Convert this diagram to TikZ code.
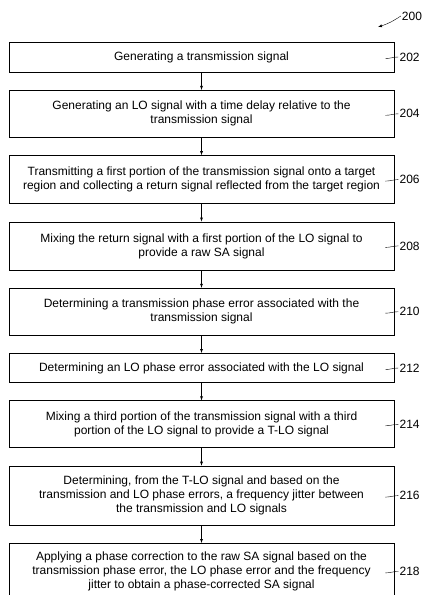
\documentclass[tikz,border=0pt]{standalone}
\usepackage{fontspec}
\setmainfont{Liberation Sans}
\usepackage{tikz}
\tikzset{stepbox/.style={draw,line width=0.8pt,minimum width=385pt,inner sep=0pt,align=center,font=\fontsize{12}{14}\selectfont} }
\tikzset{refnum/.style={inner sep=1pt,font=\fontsize{12}{14}\selectfont} }
\usetikzlibrary{positioning}

\begin{document}
\begin{tikzpicture}[x=1pt,y=1pt,node distance=17.5pt]
    \useasboundingbox (0,0) rectangle (423,-595);
    \node[stepbox,minimum height=30pt] (b202) at (201.5,-57) {Generating a transmission signal};
    \node[stepbox,minimum height=47pt,below=of b202] (b204) {Generating an LO signal with a time delay relative to the\\transmission signal};
    \node[stepbox,minimum height=48pt,below=of b204] (b206) {Transmitting a first portion of the transmission signal onto a target\\region and collecting a return signal reflected from the target region};
    \node[stepbox,minimum height=48pt,below=of b206] (b208) {Mixing the return signal with a first portion of the LO signal to\\provide a raw SA signal};
    \node[stepbox,minimum height=47pt,below=of b208] (b210) {Determining a transmission phase error associated with the\\transmission signal};
    \node[stepbox,minimum height=29pt,below=of b210] (b212) {Determining an LO phase error associated with the LO signal};
    \node[stepbox,minimum height=47pt,below=of b212] (b214) {Mixing a third portion of the transmission signal with a third\\portion of the LO signal to provide a T-LO signal};
    \node[stepbox,minimum height=59pt,below=of b214] (b216) {Determining, from the T-LO signal and based on the\\transmission and LO phase errors, a frequency jitter between\\the transmission and LO signals};
    \node[stepbox,minimum height=56pt,below=of b216] (b218) {Applying a phase correction to the raw SA signal based on the\\transmission phase error, the LO phase error and the frequency\\jitter to obtain a phase-corrected SA signal};
    % flow arrows
    \draw[-latex] (b202) -- (b204);
    \draw[-latex] (b204) -- (b206);
    \draw[-latex] (b206) -- (b208);
    \draw[-latex] (b208) -- (b210);
    \draw[-latex] (b210) -- (b212);
    \draw[-latex] (b212) -- (b214);
    \draw[-latex] (b214) -- (b216);
    \draw[-latex] (b216) -- (b218);
    % reference numerals
    \node[refnum,right=4pt of b202] (r202) {202};
    \node[refnum,right=4pt of b204] (r204) {204};
    \node[refnum,right=4pt of b206] (r206) {206};
    \node[refnum,right=4pt of b208] (r208) {208};
    \node[refnum,right=4pt of b210] (r210) {210};
    \node[refnum,right=4pt of b212] (r212) {212};
    \node[refnum,right=4pt of b214] (r214) {214};
    \node[refnum,right=4pt of b216] (r216) {216};
    \node[refnum,right=4pt of b218] (r218) {218};
    \draw (r202.west) to[out=180,in=0] ++(-13,-1.5);
    \draw (r204.west) to[out=180,in=0] ++(-13,-1.5);
    \draw (r206.west) to[out=180,in=0] ++(-13,-1.5);
    \draw (r208.west) to[out=180,in=0] ++(-13,-1.5);
    \draw (r210.west) to[out=180,in=0] ++(-13,-1.5);
    \draw (r212.west) to[out=180,in=0] ++(-13,-1.5);
    \draw (r214.west) to[out=180,in=0] ++(-13,-1.5);
    \draw (r216.west) to[out=180,in=0] ++(-13,-1.5);
    \draw (r218.west) to[out=180,in=0] ++(-13,-1.5);
    % figure number
    \node[refnum] (r200) at (412,-16) {200};
    \coordinate (t200) at (378,-27);
    \draw[-latex] (r200.west) to[bend left=8] (t200);
\end{tikzpicture}
\end{document}
